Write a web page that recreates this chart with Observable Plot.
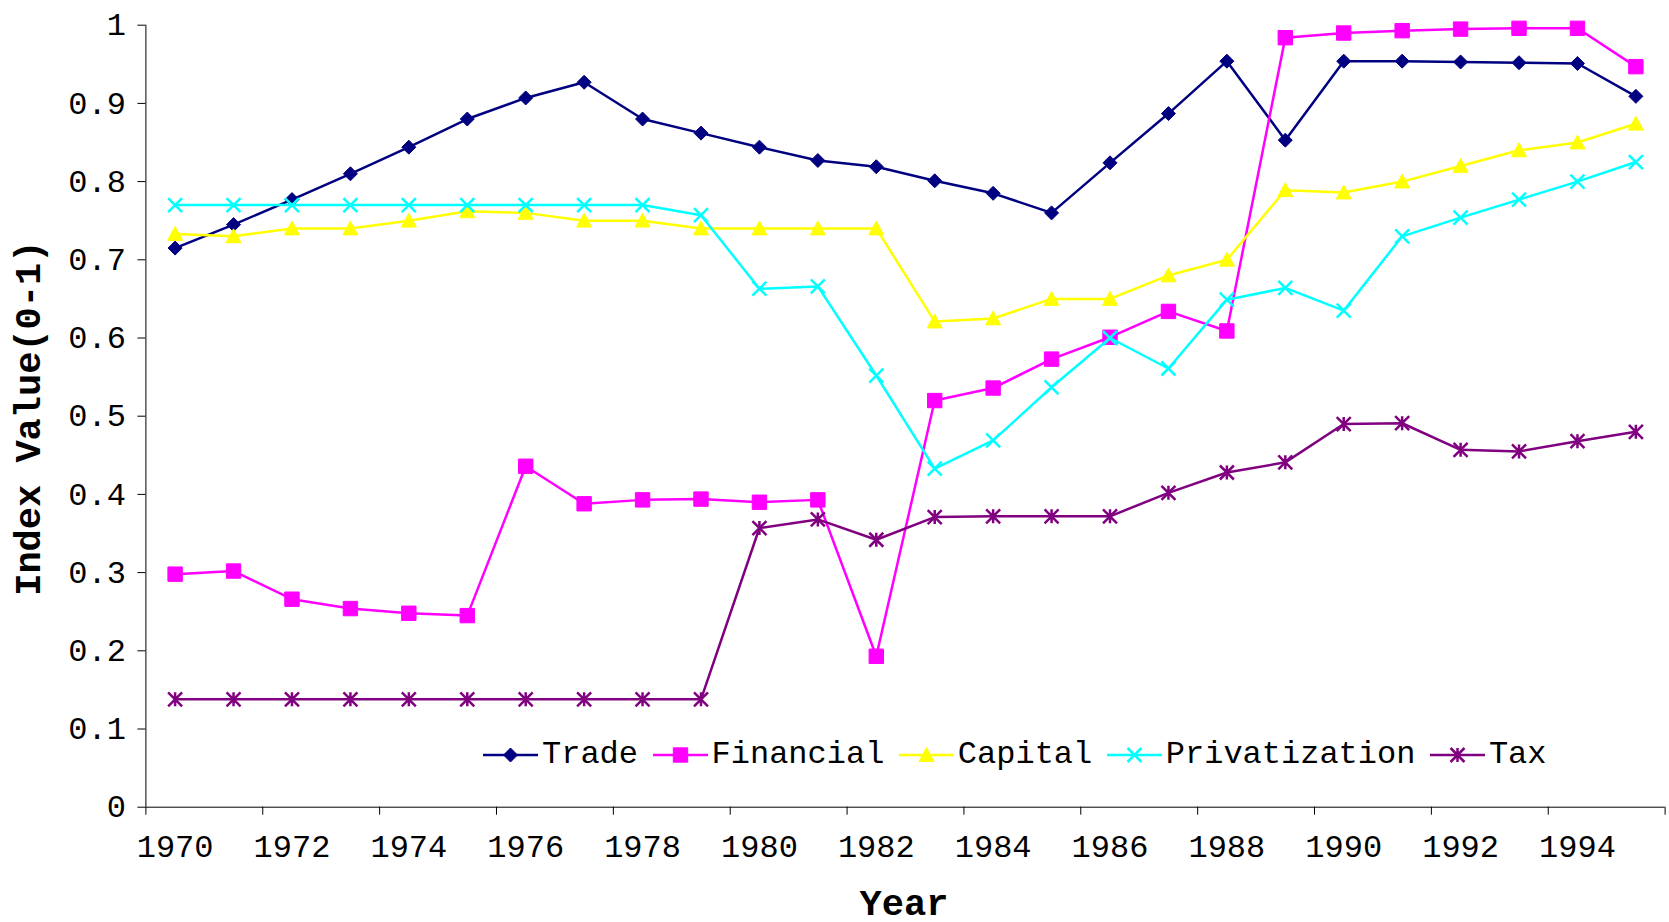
<!DOCTYPE html>
<html><head><meta charset="utf-8">
<script src="https://cdn.jsdelivr.net/npm/d3@7"></script>
<script src="https://cdn.jsdelivr.net/npm/@observablehq/plot@0.6"></script>
<style>
body{margin:0;background:#fff;}
#wrap{position:relative;width:1669px;height:922px;font-family:"Liberation Mono","Courier New",monospace;}
#legend{position:absolute;left:483px;top:739px;height:32px;display:flex;align-items:center;gap:14.5px;font-size:32px;line-height:32px;color:#000;}
.item{display:flex;align-items:center;}
.item span{margin-left:4px;white-space:pre;}
</style></head>
<body><div id="wrap"></div>
<script>
const years = [1970,1971,1972,1973,1974,1975,1976,1977,1978,1979,1980,1981,1982,1983,1984,1985,1986,1987,1988,1989,1990,1991,1992,1993,1994,1995];
const trade = [0.715,0.745,0.777,0.810,0.844,0.880,0.907,0.927,0.880,0.862,0.844,0.827,0.819,0.801,0.785,0.760,0.824,0.887,0.954,0.853,0.954,0.954,0.953,0.952,0.951,0.909];
const financial = [0.298,0.302,0.266,0.254,0.248,0.245,0.436,0.388,0.393,0.394,0.390,0.393,0.193,0.520,0.536,0.573,0.601,0.634,0.609,0.984,0.990,0.993,0.995,0.996,0.996,0.947];
const capital = [0.733,0.730,0.740,0.740,0.750,0.762,0.760,0.750,0.750,0.740,0.740,0.740,0.740,0.621,0.625,0.650,0.650,0.680,0.700,0.789,0.786,0.800,0.820,0.840,0.850,0.874];
const privatization = [0.770,0.770,0.770,0.770,0.770,0.770,0.770,0.770,0.770,0.757,0.663,0.666,0.552,0.433,0.469,0.537,0.600,0.561,0.649,0.664,0.635,0.730,0.754,0.777,0.800,0.825];
const tax = [0.138,0.138,0.138,0.138,0.138,0.138,0.138,0.138,0.138,0.138,0.357,0.368,0.342,0.371,0.372,0.372,0.372,0.402,0.428,0.441,0.490,0.491,0.457,0.455,0.468,0.480];

const seriesNames = ["Trade","Financial","Capital","Privatization","Tax"];
const seriesColors = ["#000080","#FF00FF","#FFFF00","#00FFFF","#800080"];
const seriesValues = [trade, financial, capital, privatization, tax];

const yTicks = [0,0.1,0.2,0.3,0.4,0.5,0.6,0.7,0.8,0.9,1];
const yTickLabels = ["0","0.1","0.2","0.3","0.4","0.5","0.6","0.7","0.8","0.9","1"];
const xTickLabels = ["1970","1972","1974","1976","1978","1980","1982","1984","1986","1988","1990","1992","1994"];
const yTitle = "Index Value(0-1)";
const xTitle = "Year";

const FONT = "Liberation Mono, Courier New, monospace";

// marker shapes (Excel style)
const R = (size) => Math.sqrt(size / Math.PI);
const symbols = {
  diamond: {draw(c, s){ const r = R(s); c.moveTo(0,-r); c.lineTo(r,0); c.lineTo(0,r); c.lineTo(-r,0); c.closePath(); }},
  square: {draw(c, s){ const r = R(s); c.moveTo(-r,-r); c.lineTo(r,-r); c.lineTo(r,r); c.lineTo(-r,r); c.closePath(); }},
  triangle: {draw(c, s){ const r = R(s); c.moveTo(0,-r); c.lineTo(r,r*0.85); c.lineTo(-r,r*0.85); c.closePath(); }},
  times: {draw(c, s){ const r = R(s); c.moveTo(-r,-r); c.lineTo(r,r); c.moveTo(-r,r); c.lineTo(r,-r); }},
  star: {draw(c, s){ const r = R(s); c.moveTo(-r,-r); c.lineTo(r,r); c.moveTo(-r,r); c.lineTo(r,-r); c.moveTo(0,-r); c.lineTo(0,r); }}
};
const seriesSymbols = ["diamond","square","triangle","times","star"];
const seriesFilled = [true,true,true,false,false];
const seriesR = [7,7.2,7.5,7,7];

const table = [];
seriesNames.forEach((name, si) => {
  years.forEach((yr, i) => table.push({series: name, year: yr, value: seriesValues[si][i]}));
});

const xDomain = [years[0] - 0.5, years[years.length - 1] + 0.5];
const boundaryTicks = years.filter((d, i) => i % 2 === 0).map(d => d - 0.5).concat([years[years.length - 1] + 0.5]);

const marks = [
  Plot.ruleY([0], {stroke: "#000", strokeWidth: 1}),
  Plot.ruleX([xDomain[0]], {stroke: "#000", strokeWidth: 1}),
  Plot.axisY({ticks: yTicks, tickSize: 8, tickPadding: 12, fontSize: 32, fontFamily: FONT, stroke: "#000", fill: "#000",
    tickFormat: d => yTickLabels[yTicks.findIndex(t => Math.abs(t - d) < 1e-9)], label: null}),
  Plot.axisX({ticks: boundaryTicks, tickSize: 8, tickFormat: () => "", stroke: "#000", label: null}),
  Plot.axisX({ticks: xTickLabels.map(Number), tickSize: 0, tickPadding: 27, fontSize: 32, fontFamily: FONT, fill: "#000",
    tickFormat: d => xTickLabels[xTickLabels.indexOf(String(d))], label: null})
];

seriesNames.forEach((name, si) => {
  const data = table.filter(d => d.series === name);
  marks.push(Plot.line(data, {x: "year", y: "value", stroke: seriesColors[si], strokeWidth: 2.5}));
  marks.push(Plot.dot(data, {x: "year", y: "value", symbol: symbols[seriesSymbols[si]], r: seriesR[si],
    fill: seriesFilled[si] ? seriesColors[si] : "none", stroke: seriesColors[si], strokeWidth: seriesFilled[si] ? 1 : 2.5}));
});

marks.push(Plot.text([yTitle], {frameAnchor: "left", textAnchor: "middle", lineAnchor: "middle", rotate: -90, dx: -117.4, dy: 2,
  fontSize: 37, fontWeight: "bold", fontFamily: FONT, fill: "#000"}));
marks.push(Plot.text([xTitle], {frameAnchor: "bottom", textAnchor: "middle", lineAnchor: "middle", dx: -1.5, dy: 96,
  fontSize: 37, fontWeight: "bold", fontFamily: FONT, fill: "#000"}));

const chart = Plot.plot({
  width: 1669, height: 922,
  marginLeft: 145.4, marginRight: 4.4, marginTop: 24.7, marginBottom: 115.3,
  x: {type: "linear", domain: xDomain},
  y: {type: "linear", domain: [0, 1]},
  style: {background: "#fff", color: "#000", fontFamily: FONT, overflow: "visible"},
  marks
});
const wrap = document.getElementById("wrap");
wrap.appendChild(chart);

// legend (inside plot area, bottom)
const legend = document.createElement("div");
legend.id = "legend";
seriesNames.forEach((name, si) => {
  const item = document.createElement("div");
  item.className = "item";
  const p = d3.path();
  const r = seriesR[si];
  symbols[seriesSymbols[si]].draw(p, Math.PI * r * r);
  const fill = seriesFilled[si] ? seriesColors[si] : "none";
  const sw = seriesFilled[si] ? 1 : 2.5;
  item.innerHTML = `<svg width="55" height="20" style="overflow:visible"><line x1="0" x2="55" y1="10" y2="10" stroke="${seriesColors[si]}" stroke-width="2.5"/><path transform="translate(27.5,10)" d="${p.toString()}" fill="${fill}" stroke="${seriesColors[si]}" stroke-width="${sw}"/></svg><span>${name}</span>`;
  legend.appendChild(item);
});
wrap.appendChild(legend);
</script>
</body></html>
